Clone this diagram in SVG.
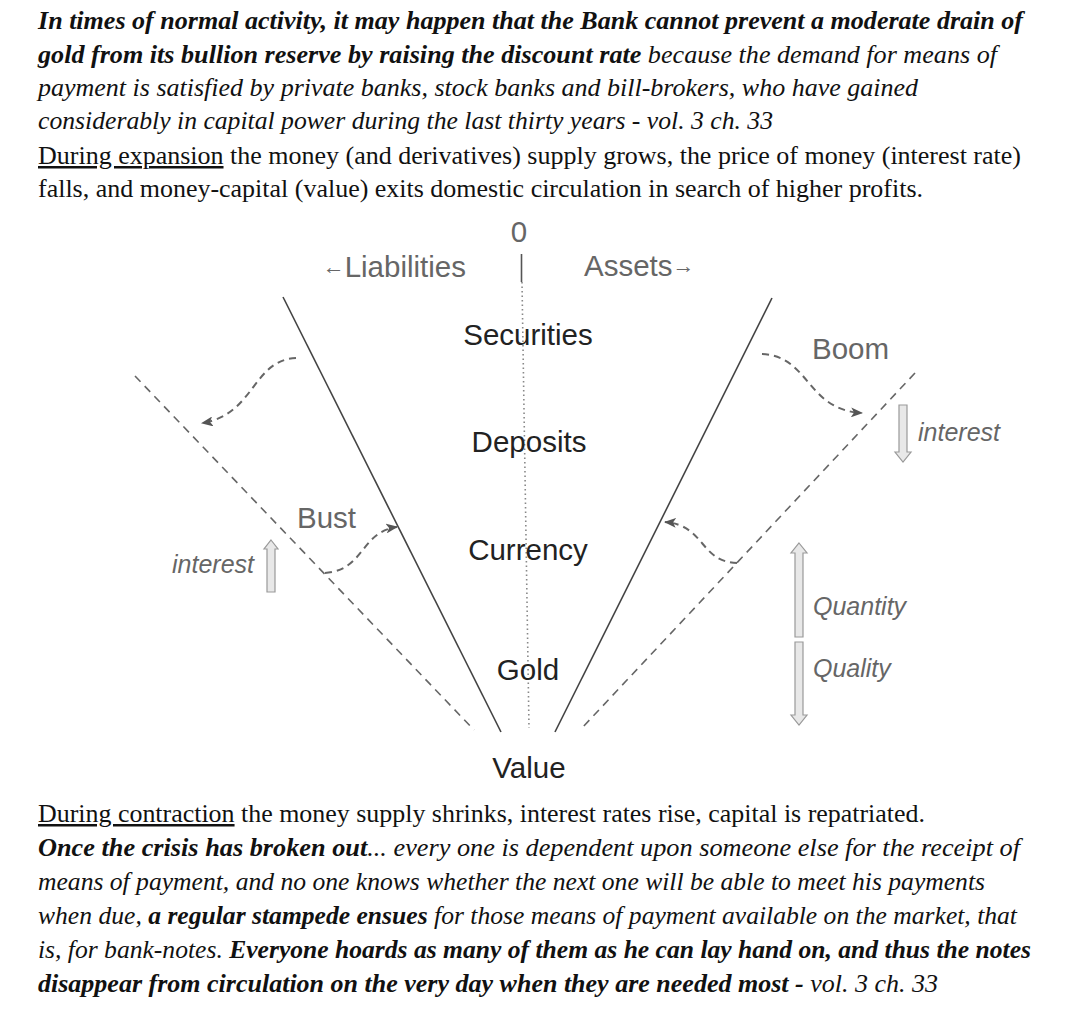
<svg xmlns="http://www.w3.org/2000/svg" width="1080" height="1013" viewBox="0 0 1080 1013">
<style>
.para{font-family:"Liberation Serif","Times New Roman",serif;font-size:25px;fill:#111}
.bi{font-weight:bold;font-style:italic}
.it{font-style:italic}
.ul{text-decoration:underline}
.lbl{font-family:"Liberation Sans",Arial,sans-serif;font-size:29.5px;fill:#222}
.glbl{font-family:"Liberation Sans",Arial,sans-serif;font-size:29.5px;fill:#666}
.ilbl{font-family:"Liberation Sans",Arial,sans-serif;font-size:25px;font-style:italic;fill:#666}
.solid{stroke:#444;stroke-width:1.6;fill:none}
.dash{stroke:#666;stroke-width:1.6;fill:none;stroke-dasharray:8 6}
.curve{stroke:#666;stroke-width:2;fill:none;stroke-dasharray:7 5}
.hollow{fill:#e8e8e8;stroke:#999;stroke-width:1.2}
</style>
<defs>
<marker id="ah" viewBox="0 0 12 10" refX="11" refY="5" markerWidth="12" markerHeight="10" markerUnits="userSpaceOnUse" orient="auto">
<path d="M0,0 L12,5 L0,10 L3,5 z" fill="#555"/>
</marker>
</defs>
<rect width="1080" height="1013" fill="#fff"/>

<g id="top-text" class="para">
<text x="38" y="29" class="bi" textLength="985" lengthAdjust="spacingAndGlyphs">In times of normal activity, it may happen that the Bank cannot prevent a moderate drain of</text>
<text x="38" y="63" textLength="959" lengthAdjust="spacingAndGlyphs"><tspan class="bi">gold from its bullion reserve by raising the discount rate</tspan><tspan class="it"> because the demand for means of</tspan></text>
<text x="38" y="96" class="it" textLength="880" lengthAdjust="spacingAndGlyphs">payment is satisfied by private banks, stock banks and bill-brokers, who have gained</text>
<text x="38" y="129" class="it" textLength="735" lengthAdjust="spacingAndGlyphs">considerably in capital power during the last thirty years - vol. 3 ch. 33</text>
<text x="38" y="164" textLength="983" lengthAdjust="spacingAndGlyphs"><tspan class="ul">During expansion</tspan> the money (and derivatives) supply grows, the price of money (interest rate)</text>
<text x="38" y="197" textLength="885" lengthAdjust="spacingAndGlyphs">falls, and money-capital (value) exits domestic circulation in search of higher profits.</text>
</g>

<g id="axis">
<text class="glbl" x="519" y="242" text-anchor="middle" font-size="27">0</text>
<line x1="521.5" y1="254" x2="521.5" y2="282" stroke="#555" stroke-width="1.6"/>
<line x1="522" y1="282" x2="529" y2="728" stroke="#888" stroke-width="1.6" stroke-dasharray="1.5 3"/>
</g>
<g id="liabilities"><text class="glbl" x="466" y="277" text-anchor="end"><tspan font-size="22" dy="-3">←</tspan><tspan dy="3">Liabilities</tspan></text></g>
<g id="assets"><text class="glbl" x="584" y="276">Assets<tspan font-size="22" dy="-3">→</tspan></text></g>

<g id="connectors">
<line class="solid" x1="283" y1="297" x2="501" y2="732"/>
<line class="solid" x1="772" y1="298" x2="555" y2="732"/>
<line class="dash" x1="135" y1="376" x2="474" y2="730"/>
<line class="dash" x1="915" y1="373" x2="582" y2="728"/>
<path class="curve" d="M296,358 C252,360 255,415 202,423" marker-end="url(#ah)"/>
<path class="curve" d="M762,354 C810,356 806,410 862,413" marker-end="url(#ah)"/>
<path class="curve" d="M325,573 C365,570 360,532 397,527" marker-end="url(#ah)"/>
<path class="curve" d="M737,563 C700,562 705,525 665,522" marker-end="url(#ah)"/>
</g>

<g id="securities"><text class="lbl" x="528" y="345" text-anchor="middle">Securities</text></g>
<g id="deposits"><text class="lbl" x="529" y="452" text-anchor="middle">Deposits</text></g>
<g id="currency"><text class="lbl" x="528" y="560" text-anchor="middle">Currency</text></g>
<g id="gold"><text class="lbl" x="528" y="680" text-anchor="middle">Gold</text></g>
<g id="value"><text class="lbl" x="529" y="778" text-anchor="middle">Value</text></g>

<g id="boom"><text class="glbl" x="812" y="359">Boom</text></g>
<g id="bust"><text class="glbl" x="297" y="528">Bust</text></g>

<g id="interest-up">
<text class="ilbl" x="172" y="573">interest</text>
<polygon class="hollow" points="271,540 278,549 275,549 275,592 267,592 267,549 264,549"/>
</g>
<g id="interest-down">
<polygon class="hollow" points="899,405 907,405 907,452 911,452 903,462 895,452 899,452"/>
<text class="ilbl" x="918" y="441">interest</text>
</g>
<g id="quantity">
<polygon class="hollow" points="799,543 807,553 803,553 803,637 795,637 795,553 791,553"/>
<text class="ilbl" x="813" y="615">Quantity</text>
</g>
<g id="quality">
<polygon class="hollow" points="795,642 803,642 803,715 807,715 799,725 791,715 795,715"/>
<text class="ilbl" x="813" y="677">Quality</text>
</g>

<g id="bottom-text" class="para">
<text x="38" y="822" textLength="887" lengthAdjust="spacingAndGlyphs"><tspan class="ul">During contraction</tspan> the money supply shrinks, interest rates rise, capital is repatriated.</text>
<text x="38" y="856" textLength="982" lengthAdjust="spacingAndGlyphs"><tspan class="bi">Once the crisis has broken out</tspan><tspan class="it">... every one is dependent upon someone else for the receipt of</tspan></text>
<text x="38" y="890" class="it" textLength="947" lengthAdjust="spacingAndGlyphs">means of payment, and no one knows whether the next one will be able to meet his payments</text>
<text x="38" y="924" class="it" textLength="979" lengthAdjust="spacingAndGlyphs">when due, <tspan class="bi">a regular stampede ensues</tspan> for those means of payment available on the market, that</text>
<text x="38" y="958" class="it" textLength="993" lengthAdjust="spacingAndGlyphs">is, for bank-notes. <tspan class="bi">Everyone hoards as many of them as he can lay hand on, and thus the notes</tspan></text>
<text x="38" y="992" textLength="900" lengthAdjust="spacingAndGlyphs"><tspan class="bi">disappear from circulation on the very day when they are needed most -</tspan><tspan class="it"> vol. 3 ch. 33</tspan></text>
</g>
</svg>
